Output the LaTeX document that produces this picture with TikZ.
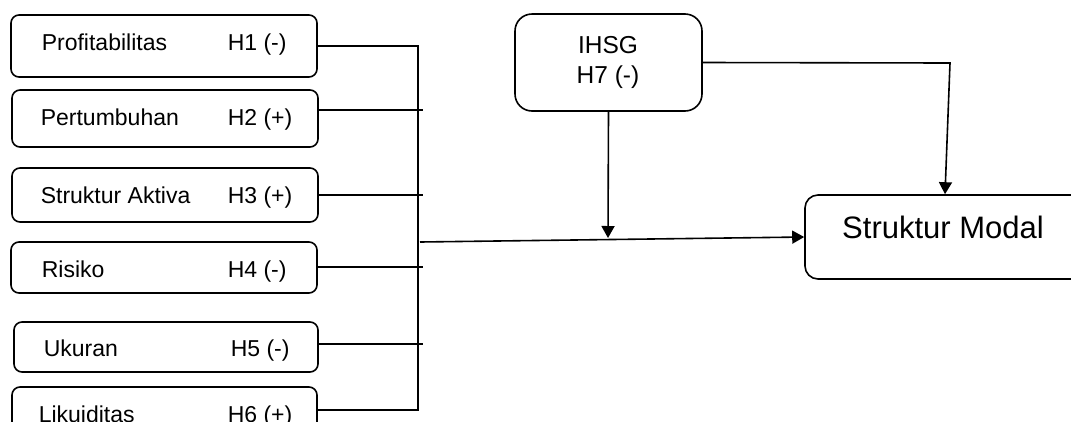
\documentclass[tikz,border=0pt]{standalone}
\usepackage{fontspec}
\setmainfont{Liberation Sans}
\usetikzlibrary{arrows.meta}
\begin{document}
\begin{tikzpicture}[x=1pt,y=-1pt,
  line width=1.6pt,
  varbox/.style={draw,rounded corners=8pt,inner sep=0pt},
  bigbox/.style={draw,rounded corners=#1,inner sep=0pt},
  lbl/.style={anchor=base west,inner sep=0pt,font=\fontsize{23}{27}\selectfont},
  arr/.style={-{Triangle[length=12pt,width=13pt]}},
  conn/.style={line width=1.6pt}]
\useasboundingbox (0,0) rectangle (1071,421);
\clip (0,0) rectangle (1071,421);
% left boxes
\node[varbox,minimum width=306pt,minimum height=62pt] (b1) at (164,46) {};
\node[varbox,minimum width=306pt,minimum height=57pt] (b2) at (165,118.5) {};
\node[varbox,minimum width=306pt,minimum height=54pt] (b3) at (165,195) {};
\node[varbox,minimum width=306pt,minimum height=51pt] (b4) at (164,267.5) {};
\node[varbox,minimum width=304pt,minimum height=50pt] (b5) at (166,347) {};
\node[varbox,minimum width=305pt,minimum height=52pt] (b6) at (164.5,413) {};
% labels
\node[lbl] (n1) at (41,50) {Profitabilitas};
\node[lbl] (h1) at (227,50) {H1 (-)};
\node[lbl] (n2) at (40,125) {Pertumbuhan};
\node[lbl] (h2) at (227,125) {H2 (+)};
\node[lbl] (n3) at (40,203) {Struktur Aktiva};
\node[lbl] (h3) at (227,203) {H3 (+)};
\node[lbl] (n4) at (41,277) {Risiko};
\node[lbl] (h4) at (227,277) {H4 (-)};
\node[lbl] (n5) at (43,356) {Ukuran};
\node[lbl] (h5) at (230,356) {H5 (-)};
\node[lbl] (n6) at (38,422.5) {Likuiditas};
\node[lbl] (h6) at (227,422.5) {H6 (+)};
% IHSG
\node[bigbox=17pt,minimum width=187pt,minimum height=97pt] (ihsg) at (608.5,62.5) {};
\node[anchor=base,inner sep=0pt,font=\fontsize{24.5}{29}\selectfont] (t1) at (608,53) {IHSG};
\node[anchor=base,inner sep=0pt,font=\fontsize{24.5}{29}\selectfont] (t2) at (608,83) {H7 (-)};
% Struktur Modal
\node[bigbox=13pt,minimum width=280pt,minimum height=84pt] (sm) at (945,237) {};
\node[anchor=base,inner sep=0pt,font=\fontsize{31}{36}\selectfont] (smt) at (943,238) {Struktur Modal};
% connector coordinates
\coordinate (v1) at (418,46);
\coordinate (v6) at (418,410);
\coordinate (t2c) at (423,110);
\coordinate (t3c) at (423,195);
\coordinate (t4c) at (423,267);
\coordinate (t5c) at (423,344);
\coordinate (j) at (420,242);
\coordinate (m) at (608,238);
\coordinate (k) at (950,63);
% connectors
\draw[conn] (b1.east) -- (v1) -- (v6) -- (b6.east |- v6);
\draw[conn] (b2.east |- t2c) -- (t2c);
\draw[conn] (b3.east |- t3c) -- (t3c);
\draw[conn] (b4.east |- t4c) -- (t4c);
\draw[conn] (b5.east |- t5c) -- (t5c);
\draw[conn,arr] (j) -- (sm.west);
\draw[conn,arr] (ihsg.south) -- (m);
\draw[conn,arr] (ihsg.east) -- (k) -- (sm.north);
\end{tikzpicture}
\end{document}
